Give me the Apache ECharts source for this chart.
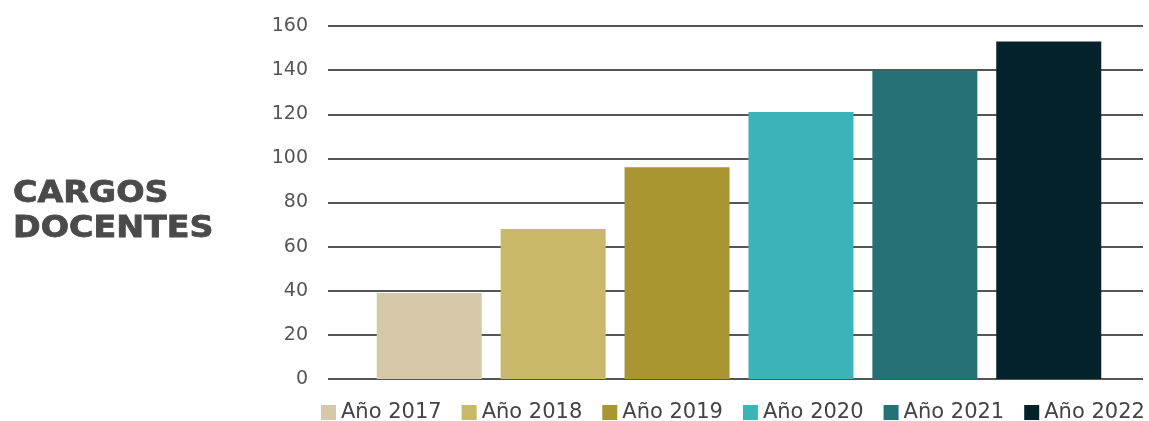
<!DOCTYPE html>
<html>
<head>
<meta charset="utf-8">
<script src="https://cdn.jsdelivr.net/npm/echarts@6/dist/echarts.min.js"></script>
<style>
html,body{margin:0;padding:0;background:#fff;}
#chart{width:1149px;height:421px;}
</style>
</head>
<body>
<div id="chart"></div>
<script>
const years = ['Año 2017', 'Año 2018', 'Año 2019', 'Año 2020', 'Año 2021', 'Año 2022'];
const values = [39, 68, 96, 121, 140, 153];
const colors = ['#d6c9a9', '#c9b76a', '#a99532', '#3bb4b8', '#267176', '#03222a'];
const yTicks = [0, 20, 40, 60, 80, 100, 120, 140, 160];
const titleLines = ['CARGOS', 'DOCENTES'];

const chart = echarts.init(document.getElementById('chart'));
const series = years.map((name, i) => ({
  name: name,
  type: 'bar',
  xAxisIndex: 1,
  yAxisIndex: 1,
  data: [values[i]],
  barWidth: 105,
  barGap: '18%',
  itemStyle: { color: colors[i] }
}));

const yMin = yTicks[0], yMax = yTicks[yTicks.length - 1];

chart.setOption({
  animation: false,
  textStyle: { fontFamily: '"DejaVu Sans", sans-serif' },
  graphic: titleLines.map((t, i) => ({
    type: 'text',
    x: 13,
    y: 194 + i * 35,
    scaleX: 1.11,
    style: {
      text: t,
      font: 'bold 30px "DejaVu Sans", sans-serif',
      fill: '#4a4a4a',
      stroke: '#4a4a4a',
      lineWidth: 0.8,
      textVerticalAlign: 'middle',
      verticalAlign: 'middle'
    }
  })),
  legend: {
    top: 402,
    left: 321,
    padding: 0,
    itemWidth: 15,
    itemHeight: 15,
    itemGap: 20,
    icon: 'rect',
    textStyle: { fontSize: 21, color: '#444', fontFamily: '"DejaVu Sans", sans-serif' },
    data: years
  },
  grid: [
    { left: 328, right: 6, top: 26, bottom: 42 },
    { left: 335, right: 6, top: 26, bottom: 42 }
  ],
  xAxis: [
    { type: 'category', gridIndex: 0, data: [''], show: false },
    { type: 'category', gridIndex: 1, data: [''], axisLine: { show: false }, axisTick: { show: false }, axisLabel: { show: false } }
  ],
  yAxis: [
    {
      type: 'value',
      gridIndex: 0,
      min: yMin,
      max: yMax,
      interval: 20,
      axisLine: { show: false },
      axisTick: { show: false },
      axisLabel: { fontSize: 19, color: '#555', margin: 20 },
      splitLine: { lineStyle: { color: '#555', width: 2 } }
    },
    {
      type: 'value',
      gridIndex: 1,
      min: yMin,
      max: yMax,
      interval: 20,
      show: false,
      splitLine: { show: false }
    }
  ],
  series: series
});
</script>
</body>
</html>
